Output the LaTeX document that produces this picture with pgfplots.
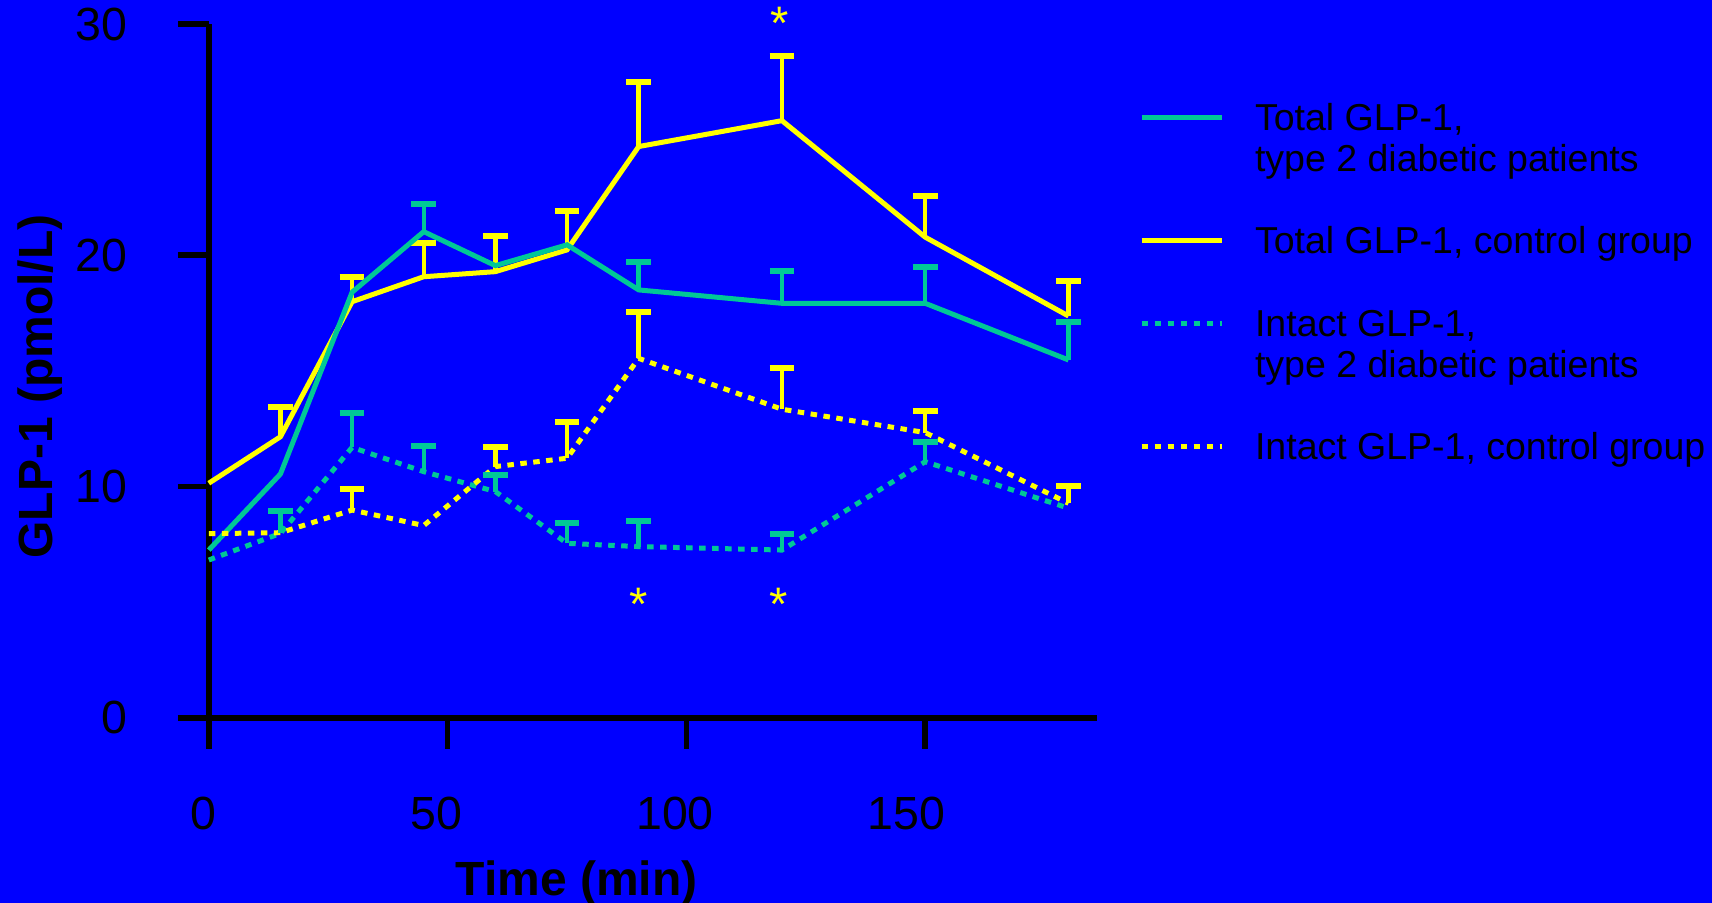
\documentclass[border=0pt]{standalone}
\usepackage{fontspec}
\setmainfont{Liberation Sans}
\usepackage{pgfplots}
\pgfplotsset{compat=1.18}
\definecolor{bgblue}{RGB}{0,0,255}
\definecolor{glpteal}{RGB}{0,200,150}
\definecolor{glpyellow}{RGB}{255,255,0}

\pgfplotsset{
  sembar/.style={draw=none, forget plot,
    error bars/.cd, y dir=plus, y explicit,
    error bar style={draw=#1, solid, line width=2.2pt},
    error mark options={draw=#1, solid, line width=3pt, mark size=6.2pt, rotate=90}},
}

\begin{document}
\begin{tikzpicture}
\fill[bgblue] (-104.4pt,-92.65pt) rectangle (751.6pt,358.85pt);
\begin{axis}[
  at={(0pt,0pt)}, anchor=south west,
  scale only axis, width=444.2pt, height=346.85pt,
  xmin=0, xmax=186, ymin=0, ymax=30,
  axis x line*=bottom, axis y line*=left,
  axis line style={-, line width=2.85pt, black},
  xtick={0,50,100,150}, ytick={0,10,20,30},
  xticklabels={\hspace*{-5.8pt}0, \hspace*{-10.9pt}50, \hspace*{-11.4pt}100, \hspace*{-18.5pt}150},
  tick align=outside, major tick length=15.5pt,
  tick style={line width=2.85pt, black},
  ticklabel style={font=\fontsize{23.25}{28}\selectfont, inner sep=0pt},
  /pgf/number format/assume math mode=true,
  xticklabel shift=24pt, yticklabel shift=24.9pt,
  xticklabel style={anchor=north},
  yticklabel style={anchor=east},
  xlabel={Time (min)}, ylabel={GLP-1 (pmol/L)},
  every axis x label/.style={at={(axis description cs:0.414,-0.2556)}, anchor=base,
    font=\fontsize{24}{28}\selectfont\bfseries},
  every axis y label/.style={at={(axis description cs:-0.190,0.4775)}, anchor=center, rotate=90,
    font=\fontsize{24}{28}\selectfont\bfseries},
  clip=false,
  legend cell align=left,
  legend style={
    at={(axis description cs:1.0471,0.8866)}, anchor=north west,
    draw=none, fill=none, inner sep=0pt, outer sep=0pt,
    font=\fontsize{18.75}{22}\selectfont,
    row sep=2.55pt, column sep=0pt,
    /tikz/every odd column/.style={column sep=15.5pt},
    nodes={inner sep=0pt, outer sep=0pt, text height=14pt, text depth=4pt, anchor=base west},
  },
  legend image code/.code={\draw[#1, line width=2.5pt] (0pt,6.5pt) -- (40pt,6.5pt);},
]

% Total GLP-1, control group (drawn underneath the patient curve)
\addplot[glpyellow, line width=2.5pt, forget plot] coordinates {
  (0,10.14) (15,12.15) (30,17.99) (45,19.07) (60,19.29) (75,20.23)
  (90,24.70) (120,25.82) (150,20.78) (180,17.37)};
\addplot[sembar=glpyellow]
  coordinates {(15,12.15) +- (0,1.27) (30,17.99) +- (0,1.08) (45,19.07) +- (0,1.46)
               (60,19.29) +- (0,1.56) (75,20.23) +- (0,1.67) (90,24.70) +- (0,2.81)
               (120,25.82) +- (0,2.81) (150,20.78) +- (0,1.80) (180,17.37) +- (0,1.50)};

% Total GLP-1, type 2 diabetic patients
\addplot[glpteal, line width=2.5pt] coordinates {
  (0,7.25) (15,10.54) (30,18.40) (45,21.02) (60,19.55) (75,20.45)
  (90,18.50) (120,17.92) (150,17.92) (180,15.47)};
\addlegendentry{Total GLP-1,}
\addlegendimage{empty legend}\addlegendentry{type 2 diabetic patients}
\addlegendimage{empty legend}\addlegendentry{}
\addlegendimage{glpyellow}\addlegendentry{Total GLP-1, control group}
\addlegendimage{empty legend}\addlegendentry{}
\addplot[sembar=glpteal]
  coordinates {(45,21.02) +- (0,1.21) (90,18.50) +- (0,1.19) (120,17.92) +- (0,1.38)
               (150,17.92) +- (0,1.56) (180,15.47) +- (0,1.63)};

% Intact GLP-1, type 2 diabetic patients
\addplot[glpteal, line width=2.5pt, dash pattern=on 3.25pt off 3.25pt] coordinates {
  (0,6.82) (15,7.97) (30,11.69) (45,10.64) (60,9.78) (75,7.54)
  (90,7.40) (120,7.25) (150,11.07) (180,9.06)};
\addlegendentry{Intact GLP-1,}
\addlegendimage{empty legend}\addlegendentry{type 2 diabetic patients}
\addlegendimage{empty legend}\addlegendentry{}

% Intact GLP-1, control group
\addplot[glpyellow, line width=2.5pt, dash pattern=on 3.25pt off 3.25pt] coordinates {
  (0,7.96) (15,8.00) (30,8.98) (45,8.31) (60,10.86) (75,11.22)
  (90,15.54) (120,13.34) (150,12.33) (180,9.27)};
\addlegendentry{Intact GLP-1, control group}

% upper SEM bars of the intact GLP-1 curves
\addplot[sembar=glpteal]
  coordinates {(15,7.97) +- (0,0.98) (30,11.69) +- (0,1.47) (45,10.64) +- (0,1.13)
               (60,9.78) +- (0,0.72) (75,7.54) +- (0,0.86) (90,7.40) +- (0,1.09)
               (120,7.25) +- (0,0.69) (150,11.07) +- (0,0.84)};
\addplot[sembar=glpyellow]
  coordinates {(30,8.98) +- (0,0.91) (60,10.86) +- (0,0.83) (75,11.22) +- (0,1.55)
               (90,15.54) +- (0,1.99) (120,13.34) +- (0,1.77) (150,12.33) +- (0,0.95)
               (180,9.27) +- (0,0.76)};

% significance markers
\node[glpyellow, font=\fontsize{23.5}{28}\selectfont, anchor=north, inner sep=0pt] at (axis cs:119.5,30.75) {*};
\node[glpyellow, font=\fontsize{23.5}{28}\selectfont, anchor=north, inner sep=0pt] at (axis cs:89.9,5.6) {*};
\node[glpyellow, font=\fontsize{23.5}{28}\selectfont, anchor=north, inner sep=0pt] at (axis cs:119.3,5.6) {*};
\end{axis}
\pgfresetboundingbox
\path[use as bounding box] (-104.4pt,-92.65pt) rectangle (751.6pt,358.85pt);
\end{tikzpicture}
\end{document}
